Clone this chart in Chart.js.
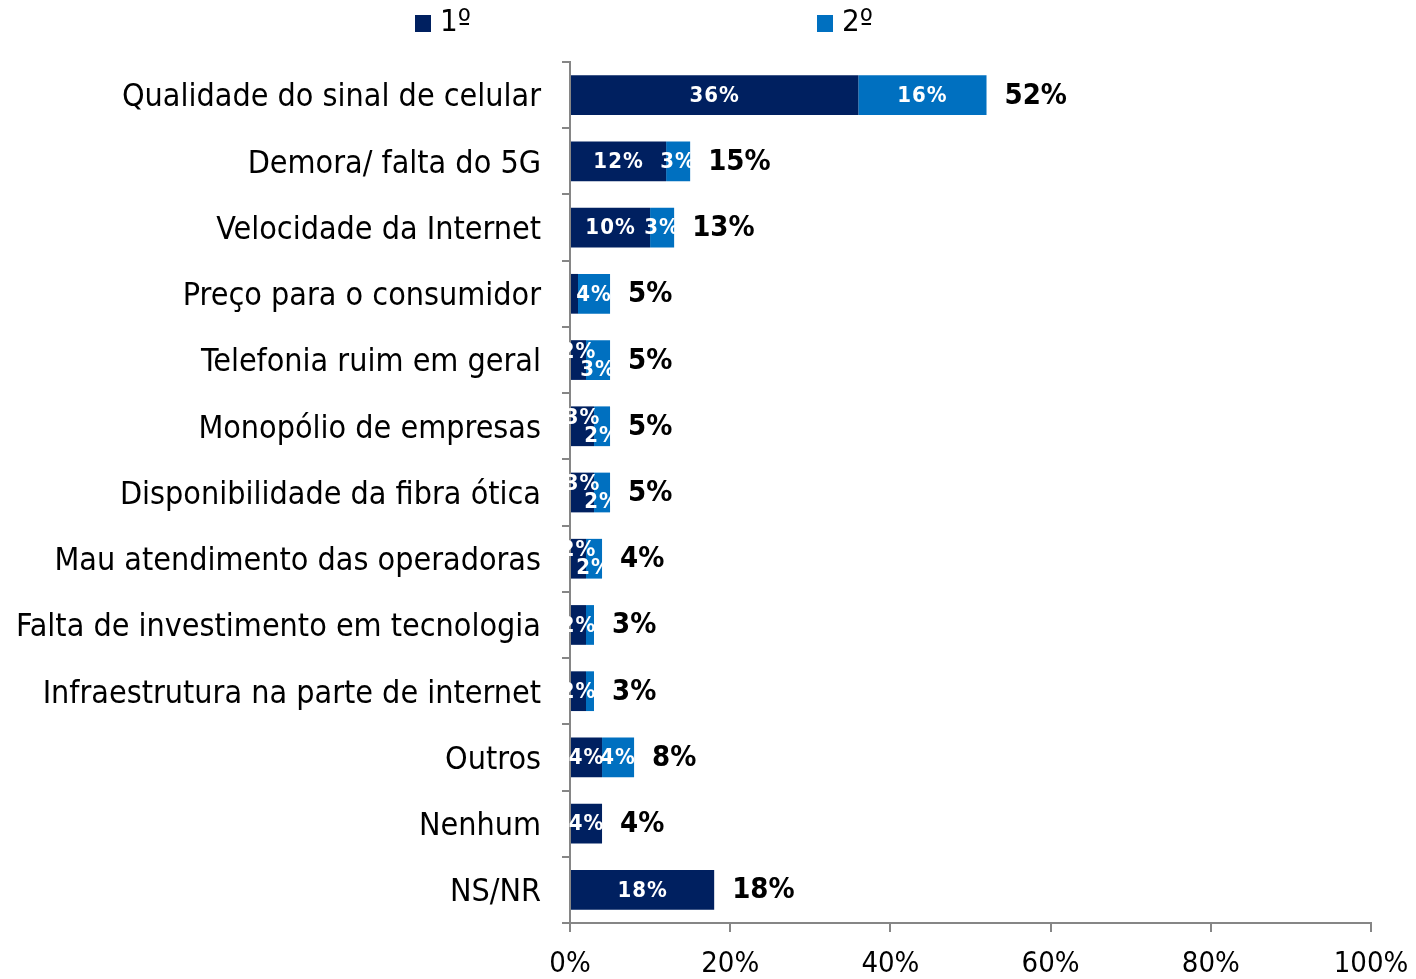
<!DOCTYPE html>
<html>
<head>
<meta charset="utf-8">
<script src="https://cdn.jsdelivr.net/npm/chart.js@4"></script>
<style>
    html, body { margin: 0; padding: 0; background: #fff; }
    #wrap { width: 1416px; height: 979px; }
</style>
</head>
<body>
<div id="wrap"><canvas id="chart"></canvas></div>
<script>
const categories = [
    'Qualidade do sinal de celular',
    'Demora/ falta do 5G',
    'Velocidade da Internet',
    'Preço para o consumidor',
    'Telefonia ruim em geral',
    'Monopólio de empresas',
    'Disponibilidade da fibra ótica',
    'Mau atendimento das operadoras',
    'Falta de investimento em tecnologia',
    'Infraestrutura na parte de internet',
    'Outros',
    'Nenhum',
    'NS/NR'
];
const seriesNames = ['1º', '2º'];
const firstValues = [36, 12, 10, 1, 2, 3, 3, 2, 2, 2, 4, 4, 18];
const secondValues = [16, 3, 3, 4, 3, 2, 2, 2, 1, 1, 4, 0, 0];
const totals = [52, 15, 13, 5, 5, 5, 5, 4, 3, 3, 8, 4, 18];
const xTicks = [0, 20, 40, 60, 80, 100];

const FONT = '"DejaVu Sans Condensed", "DejaVu Sans", sans-serif';
const NAVY = '#002060';
const BLUE = '#0070C0';
const AXIS = '#868686';

Chart.defaults.font.family = FONT;
Chart.defaults.color = '#000';

// white labels inside the segments, black totals after the bars, and the legend on top
const barLabels = {
    id: 'barLabels',
    afterDatasetsDraw(chart) {
        const ctx = chart.ctx;
        const xs = chart.scales.x;
        const sets = chart.data.datasets;
        ctx.save();

        ctx.font = 'bold 22px ' + FONT;
        ctx.letterSpacing = '1px';
        ctx.fillStyle = '#fff';
        ctx.textAlign = 'center';
        ctx.textBaseline = 'middle';
        categories.forEach((c, j) => {
            const vals = sets.map(ds => ds.data[j]);
            // both segments small: stagger the two labels like the original
            const crowded = vals.every(v => v >= 2 && v < 4);
            vals.forEach((v, i) => {
                if (v < 2) return;
                const bar = chart.getDatasetMeta(i).data[j];
                let y = bar.y;
                if (crowded) y += i === 0 ? -9 : 9;
                ctx.fillText(v + '%', (bar.x + bar.base) / 2, y + 1);
            });
        });

        ctx.letterSpacing = '0px';
        ctx.font = 'bold 29px ' + FONT;
        ctx.fillStyle = '#000';
        ctx.textAlign = 'left';
        totals.forEach((t, j) => {
            const y = chart.getDatasetMeta(0).data[j].y;
            ctx.fillText(t + '%', xs.getPixelForValue(t) + 18, y + 1);
        });

        const legendX = [415, 817];
        ctx.font = '31px ' + FONT;
        sets.forEach((ds, i) => {
            ctx.fillStyle = ds.backgroundColor;
            ctx.fillRect(legendX[i], 15, 16, 17);
            ctx.fillStyle = '#000';
            ctx.fillText(ds.label, legendX[i] + 25, 23);
        });
        ctx.restore();
    }
};

new Chart(document.getElementById('chart'), {
    type: 'bar',
    data: {
        labels: categories,
        datasets: [
            { label: seriesNames[0], data: firstValues, backgroundColor: NAVY },
            { label: seriesNames[1], data: secondValues, backgroundColor: BLUE }
        ]
    },
    options: {
        indexAxis: 'y',
        responsive: true,
        maintainAspectRatio: false,
        animation: false,
        layout: { padding: { top: 62, right: 45, left: 0, bottom: 0 } },
        datasets: { bar: { categoryPercentage: 0.6, barPercentage: 1 } },
        plugins: {
            legend: { display: false },
            tooltip: { enabled: false }
        },
        scales: {
            x: {
                stacked: true,
                min: 0,
                max: 100,
                afterBuildTicks: scale => { scale.ticks = xTicks.map(v => ({ value: v })); },
                ticks: { callback: v => v + '%', font: { size: 29 }, color: '#000', padding: 15, maxRotation: 0 },
                grid: { drawOnChartArea: false, tickLength: 9, color: AXIS, lineWidth: 2 },
                border: { color: AXIS, width: 2 },
                afterFit: scale => { scale.height = 56; scale.paddingRight = 0; scale.paddingLeft = 0; }
            },
            y: {
                stacked: true,
                ticks: { font: { size: 32 }, color: '#000', padding: 21, labelOffset: 3 },
                grid: { drawOnChartArea: false, tickLength: 8, color: AXIS, lineWidth: 2 },
                border: { color: AXIS, width: 2 },
                afterFit: scale => { scale.width = 570; }
            }
        }
    },
    plugins: [barLabels]
});
</script>
</body>
</html>
